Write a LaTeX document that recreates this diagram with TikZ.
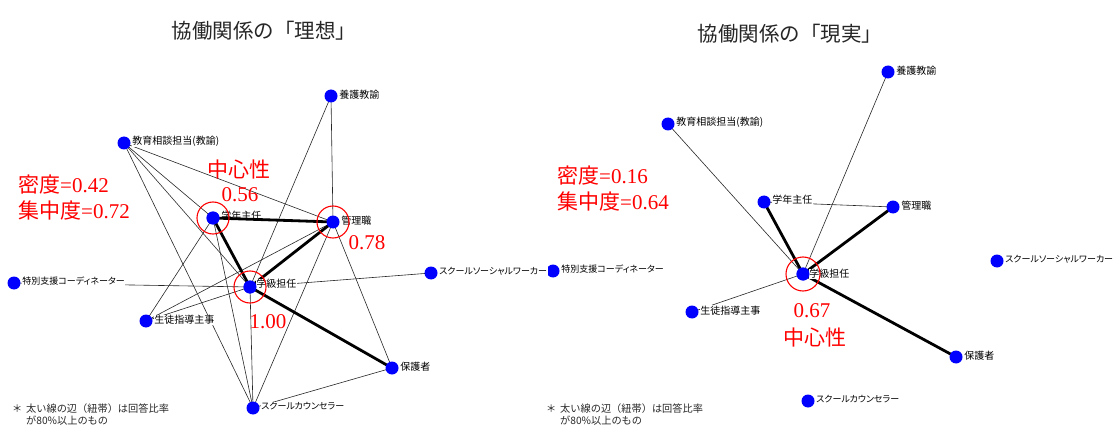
\documentclass[tikz,border=0pt]{standalone}
\usepackage{fontspec}
\setmainfont{Liberation Serif}
\newfontfamily\jp{Noto Sans CJK JP}[RawFeature=+palt]
\newfontfamily\jpf{Noto Sans CJK JP}
\usetikzlibrary{backgrounds}
\begin{document}
\begin{tikzpicture}[x=1pt,y=-1pt,
  dot/.style={circle,fill=blue,inner sep=0pt,minimum size=13pt},
  lab/.style={font=\jp\fontsize{10}{12}\selectfont,fill=white,inner sep=0.5pt,anchor=west},
  klab/.style={lab,font=\jp\fontsize{9}{11}\selectfont},
  labnf/.style={lab,fill=none},
  ring/.style={circle,draw=red,line width=1.1pt,inner sep=0pt,minimum size=32pt},
  thinedge/.style={line width=0.6pt,black!85},
  thickedge/.style={line width=2.8pt,black},
  rtext/.style={text=red,font=\fontsize{21}{23}\selectfont,inner sep=0pt},
  title/.style={font=\jpf\fontsize{20.5}{22}\selectfont,text=black!85,inner sep=0pt},
  foot/.style={font=\jpf\fontsize{10.2}{12}\selectfont,text=black!85,inner sep=0pt,anchor=west}]
\useasboundingbox (0,0) rectangle (1117,425);
\clip (0,0) rectangle (1117,425);

% titles
\node[title] (t1) at (264,31) {協働関係の「理想」};
\node[title] (t2) at (790,34) {協働関係の「現実」};

% ---------- left graph nodes ----------
\node[dot] (lY) at (331,96) {};
\node[dot] (lK) at (124,143) {};
\node[dot] (lG) at (213,218) {};
\node[dot] (lM) at (333,222) {};
\node[dot] (lT) at (14,283) {};
\node[dot] (lS) at (431,273) {};
\node[dot] (lC) at (250,287) {};
\node[dot] (lP) at (146,321) {};
\node[dot] (lH) at (392,368) {};
\node[dot] (lSC) at (253,408) {};

% ---------- right graph nodes ----------
\node[dot] (rY) at (888,72) {};
\node[dot] (rK) at (668,124) {};
\node[dot] (rG) at (764,202) {};
\node[dot] (rM) at (893,207) {};
\node[dot] (rT) at (553,271) {};
\node[dot] (rS) at (997,261) {};
\node[dot] (rC) at (803,274) {};
\node[dot] (rP) at (692,312) {};
\node[dot] (rH) at (956,357) {};
\node[dot] (rSC) at (808,401) {};

\begin{scope}[on background layer]
% left thin edges
\foreach \a/\b in {lY/lM,lY/lC,lK/lM,lK/lG,lK/lC,lK/lSC,lG/lP,lG/lSC,lM/lP,lM/lSC,lM/lH,lC/lT,lC/lS,lC/lP,lC/lSC,lSC/lH}
  \draw[thinedge] (\a.center) -- (\b.center);
% left thick edges
\foreach \a/\b in {lG/lM,lG/lC,lM/lC,lC/lH}
  \draw[thickedge] (\a.center) -- (\b.center);
% right edges
\foreach \a/\b in {rK/rC,rY/rC,rG/rM,rC/rP}
  \draw[thinedge] (\a.center) -- (\b.center);
\foreach \a/\b in {rG/rC,rM/rC,rC/rH}
  \draw[thickedge] (\a.center) -- (\b.center);
\end{scope}

% ---------- labels left ----------
\node[lab] (lYl) at ([xshift=1pt,yshift=1.5pt]lY.east) {養護教諭};
\node[lab] (lKl) at ([xshift=1pt,yshift=1.5pt]lK.east) {教育相談担当(教諭)};
\node[labnf] (lGl) at ([xshift=1pt,yshift=2.5pt]lG.east) {学年主任};
\node[lab] (lMl) at ([xshift=1pt,yshift=1.5pt]lM.east) {管理職};
\node[klab] (lTl) at ([xshift=1pt,yshift=1.5pt]lT.east) {特別支援コーディネーター};
\node[klab] (lSl) at ([xshift=1pt,yshift=1.5pt]lS.east) {スクールソーシャルワーカー};
\node[lab] (lCl) at ([xshift=-1pt,yshift=3pt]lC.east) {学級担任};
\node[lab] (lPl) at ([xshift=1pt,yshift=1pt]lP.east) {生徒指導主事};
\node[lab] (lHl) at ([xshift=1pt,yshift=1.5pt]lH.east) {保護者};
\node[klab] (lSCl) at ([xshift=1pt,yshift=1.5pt]lSC.east) {スクールカウンセラー};

% ---------- labels right ----------
\node[lab] (rYl) at ([xshift=1pt,yshift=1.5pt]rY.east) {養護教諭};
\node[lab] (rKl) at ([xshift=1pt,yshift=1.5pt]rK.east) {教育相談担当(教諭)};
\node[lab] (rGl) at ([xshift=1pt,yshift=2pt]rG.east) {学年主任};
\node[lab] (rMl) at ([xshift=1pt,yshift=1.5pt]rM.east) {管理職};
\node[klab] (rTl) at ([xshift=1pt,yshift=1.5pt]rT.east) {特別支援コーディネーター};
\node[klab] (rSl) at ([xshift=1pt,yshift=1.5pt]rS.east) {スクールソーシャルワーカー};
\node[lab] (rCl) at ([xshift=-1pt,yshift=0pt]rC.east) {学級担任};
\node[lab] (rPl) at ([xshift=1pt,yshift=1.5pt]rP.east) {生徒指導主事};
\node[lab] (rHl) at ([xshift=1pt,yshift=1.5pt]rH.east) {保護者};
\node[klab] (rSCl) at ([xshift=1pt,yshift=1.5pt]rSC.east) {スクールカウンセラー};

% redraw dots over labels
\foreach \n in {lG,lC,rC} \fill[blue] (\n.center) circle (6.5pt);

% rings
\node[ring] (lGr) at (lG.center) {};
\node[ring] (lMr) at (lM.center) {};
\node[ring] (lCr) at (lC.center) {};
\node[ring,minimum size=34pt] (rCr) at (rC.center) {};

% red measures left
\node[rtext] (lcen) at (239,170) {{\jpf 中心性}};
\node[rtext] (lv1) at (240,195) {0.56};
\node[rtext,anchor=west] (lden) at (18,185) {{\jpf 密度}=0.42};
\node[rtext,anchor=west] (lcon) at (18,211) {{\jpf 集中度}=0.72};
\node[rtext] (lv2) at (367,243) {0.78};
\node[rtext] (lv3) at (268,322) {1.00};
\node[rtext] (lv4) at (275,433) {0.44};

% red measures right
\node[rtext,anchor=west] (rden) at (557,176) {{\jpf 密度}=0.16};
\node[rtext,anchor=west] (rcon) at (557,202) {{\jpf 集中度}=0.64};
\node[rtext] (rv1) at (812,311) {0.67};
\node[rtext] (rcen) at (815,338) {{\jpf 中心性}};

% footnotes
\node[foot] (f1a) at (12,409) {＊};
\node[foot] (f1b) at (26,409) {太い線の辺（紐帯）は回答比率};
\node[foot] (f1c) at (26,421) {が80\%以上のもの};
\node[foot] (f2a) at (546,409) {＊};
\node[foot] (f2b) at (560,409) {太い線の辺（紐帯）は回答比率};
\node[foot] (f2c) at (560,421) {が80\%以上のもの};
\end{tikzpicture}
\end{document}
